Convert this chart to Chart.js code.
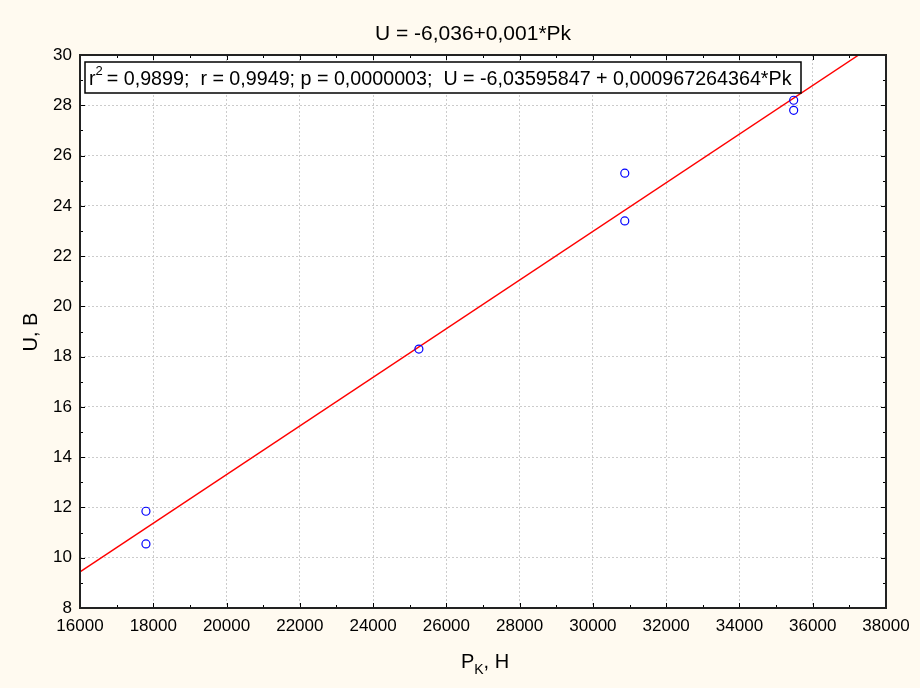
<!DOCTYPE html>
<html>
<head>
<meta charset="utf-8">
<script src="https://cdn.jsdelivr.net/npm/chart.js@4.4.1/dist/chart.umd.min.js"></script>
<style>
html,body{margin:0;padding:0;background:#fffaf0;}
#wrap{width:920px;height:688px;position:relative;}
</style>
</head>
<body>
<div id="wrap"><canvas id="c" width="920" height="688"></canvas></div>
<script>
// Observed data points (Pk, U)
const pkValues = [17800, 17800, 25250, 30870, 30870, 35480, 35480];
const uValues  = [11.85, 10.55, 18.3, 25.3, 23.4, 28.2, 27.8];
// Regression line endpoints (U = -6.03595847 + 0.000967264364*Pk)
const fitX = [16000, 37255];
const fitY = [9.44, 30.0];
const xTicks = [16000,18000,20000,22000,24000,26000,28000,30000,32000,34000,36000,38000];
const yTicks = [8,10,12,14,16,18,20,22,24,26,28,30];
const titleText = 'U = -6,036+0,001*Pk';
const statsText = '= 0,9899;  r = 0,9949; p = 0,0000003;  U = -6,03595847 + 0,000967264364*Pk';

const FONT = '"Liberation Sans", Arial, sans-serif';

const deco = {
  id: 'deco',
  beforeDraw(chart) {
    const ctx = chart.ctx, a = chart.chartArea;
    ctx.save();
    ctx.fillStyle = '#fffaf0';
    ctx.fillRect(0, 0, chart.width, chart.height);
    ctx.fillStyle = '#ffffff';
    ctx.fillRect(a.left, a.top, a.right - a.left, a.bottom - a.top);
    ctx.restore();
  },
  afterDraw(chart) {
    const ctx = chart.ctx, a = chart.chartArea;
    const xs = chart.scales.x, ys = chart.scales.y;
    ctx.save();
    // inward ticks
    ctx.strokeStyle = '#000';
    ctx.lineWidth = 1;
    ctx.beginPath();
    for (let v = 16000; v <= 38000; v += 1000) {
      const px = Math.round(xs.getPixelForValue(v)) + 0.5;
      const len = (v % 2000 === 0) ? 5 : 3;
      ctx.moveTo(px, a.bottom); ctx.lineTo(px, a.bottom - len);
      ctx.moveTo(px, a.top); ctx.lineTo(px, a.top + len);
    }
    for (let v = 8; v <= 30; v += 1) {
      const py = Math.round(ys.getPixelForValue(v)) + 0.5;
      const len = (v % 2 === 0) ? 5 : 3;
      ctx.moveTo(a.left, py); ctx.lineTo(a.left + len, py);
      ctx.moveTo(a.right, py); ctx.lineTo(a.right - len, py);
    }
    ctx.stroke();
    // plot border
    ctx.strokeStyle = '#222';
    ctx.lineWidth = 2;
    ctx.strokeRect(a.left, a.top, a.right - a.left, a.bottom - a.top);

    // title
    ctx.fillStyle = '#000';
    ctx.font = '21px ' + FONT;
    ctx.textAlign = 'center';
    ctx.textBaseline = 'alphabetic';
    ctx.fillText(titleText, 473, 40);

    // stats box
    const bx = 85, by = 62, bw = 716, bh = 31;
    ctx.fillStyle = '#fff';
    ctx.fillRect(bx, by, bw, bh);
    ctx.strokeStyle = '#000';
    ctx.lineWidth = 1.5;
    ctx.strokeRect(bx, by, bw, bh);
    ctx.fillStyle = '#000';
    ctx.textAlign = 'left';
    ctx.font = '19.7px ' + FONT;
    let tx = 89;
    ctx.fillText('r', tx, 85);
    tx += ctx.measureText('r').width;
    ctx.font = '13px ' + FONT;
    ctx.fillText('2', tx, 75);
    tx += ctx.measureText('2').width + 4;
    ctx.font = '19.7px ' + FONT;
    ctx.fillText(statsText, tx, 85);

    // y axis title
    ctx.save();
    ctx.translate(37, 332);
    ctx.rotate(-Math.PI / 2);
    ctx.textAlign = 'center';
    ctx.font = '20px ' + FONT;
    ctx.fillText('U, B', 0, 0);
    ctx.restore();

    // x axis title with subscript
    ctx.font = '20px ' + FONT;
    const p1 = 'P', sub = 'K', rest = ', H';
    ctx.textAlign = 'left';
    const w1 = ctx.measureText(p1).width;
    ctx.font = '14px ' + FONT;
    const w2 = ctx.measureText(sub).width;
    ctx.font = '20px ' + FONT;
    const w3 = ctx.measureText(rest).width;
    let sx = 485 - (w1 + w2 + w3) / 2;
    ctx.fillText(p1, sx, 668);
    sx += w1;
    ctx.font = '14px ' + FONT;
    ctx.fillText(sub, sx, 674);
    sx += w2;
    ctx.font = '20px ' + FONT;
    ctx.fillText(rest, sx, 668);
    ctx.restore();
  }
};

const points = pkValues.map((x, i) => ({x: x, y: uValues[i]}));
const fitLine = fitX.map((x, i) => ({x: x, y: fitY[i]}));

new Chart(document.getElementById('c'), {
  type: 'scatter',
  data: {
    datasets: [
      {
        type: 'line',
        data: fitLine,
        borderColor: '#ff0000',
        borderWidth: 1.5,
        pointRadius: 0,
        fill: false,
        tension: 0,
        order: 2
      },
      {
        data: points,
        pointStyle: 'circle',
        pointRadius: 4,
        pointBorderWidth: 1.2,
        pointBorderColor: '#0000ff',
        pointBackgroundColor: 'rgba(0,0,0,0)',
        order: 1
      }
    ]
  },
  options: {
    responsive: false,
    animation: false,
    devicePixelRatio: 1,
    layout: { padding: { left: 0, top: 55, right: 34, bottom: 0 } },
    plugins: { legend: { display: false }, tooltip: { enabled: false }, title: { display: false } },
    scales: {
      x: {
        type: 'linear', min: 16000, max: 38000,
        afterBuildTicks(s) { s.ticks = xTicks.map(v => ({value: v})); },
        afterFit(s) { s.height = 80; },
        grid: { color: '#cccccc', lineWidth: 1, drawTicks: false },
        border: { display: false, dash: [2,2] },
        ticks: { color: '#000', font: { size: 17, family: FONT }, padding: 8, maxRotation: 0, autoSkip: false, callback: v => String(v) }
      },
      y: {
        type: 'linear', min: 8, max: 30,
        afterBuildTicks(s) { s.ticks = yTicks.map(v => ({value: v})); },
        afterFit(s) { s.width = 80; },
        grid: { color: '#cccccc', lineWidth: 1, drawTicks: false },
        border: { display: false, dash: [2,2] },
        ticks: { color: '#000', font: { size: 17, family: FONT }, padding: 8, autoSkip: false, callback: v => String(v) }
      }
    }
  },
  plugins: [deco]
});
</script>
</body>
</html>
